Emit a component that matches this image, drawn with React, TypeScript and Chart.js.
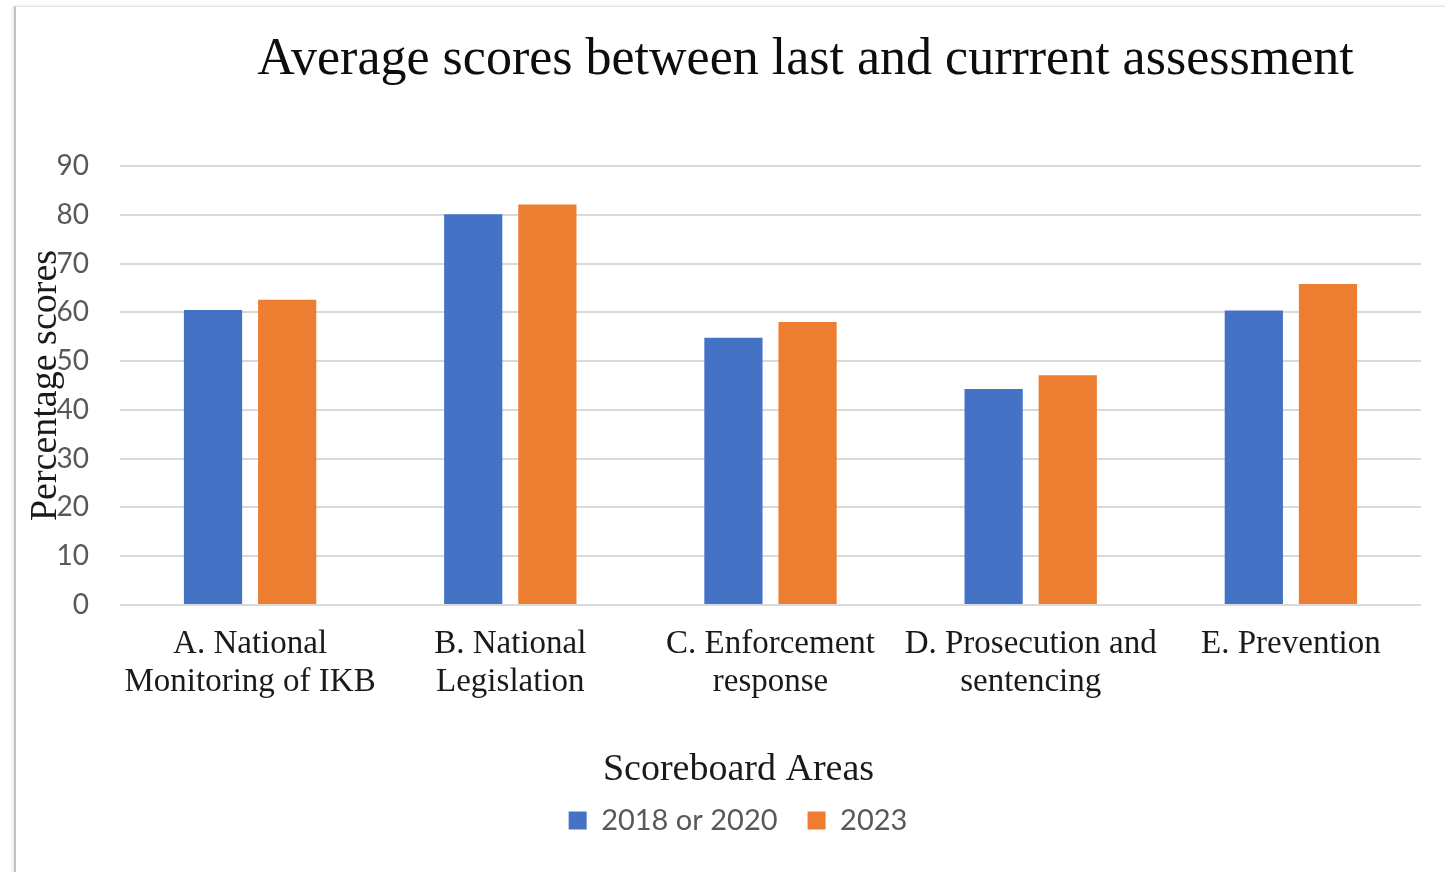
import React, { useEffect, useRef } from "react";
import { Chart, registerables } from "chart.js";

Chart.register(...registerables);

const chartTitle = "Average scores between last and currrent assessment";
const xAxisTitle = "Scoreboard Areas";
const yAxisTitle = "Percentage scores";

const categories: string[][] = [
  ["A. National", "Monitoring of IKB"],
  ["B. National", "Legislation"],
  ["C. Enforcement", "response"],
  ["D. Prosecution and", "sentencing"],
  ["E. Prevention"],
];

const seriesNames = ["2018 or 2020", "2023"];
const valuesEarlier = [60.5, 80.1, 54.8, 44.3, 60.4];
const values2023 = [62.6, 82.1, 58.0, 47.1, 65.8];

const yMin = 0;
const yMax = 90;
const yStep = 10;

const textPlugin = {
  id: "customTexts",
  afterDraw(chart: any) {
    const { ctx, chartArea } = chart;
    const cx = (chartArea.left + chartArea.right) / 2;
    const cy = (chartArea.top + chartArea.bottom) / 2;
    ctx.save();
    ctx.textAlign = "center";
    ctx.textBaseline = "alphabetic";
    ctx.fillStyle = "#0d0d0d";
    ctx.font = '52px "Liberation Serif", "Times New Roman", serif';
    ctx.fillText(chartTitle, cx + 35, chartArea.top - 92);

    ctx.fillStyle = "#1a1a1a";
    ctx.font = '38px "Liberation Serif", "Times New Roman", serif';
    ctx.fillText(xAxisTitle, cx - 32, chartArea.bottom + 175);

    ctx.translate(chartArea.left - 64, cy);
    ctx.rotate(-Math.PI / 2);
    ctx.fillText(yAxisTitle, 0, 0);
    ctx.restore();
  },
};

export default function App() {
  const ref = useRef<HTMLCanvasElement | null>(null);

  useEffect(() => {
    if (!ref.current) return;
    const chart = new Chart(ref.current, {
      type: "bar",
      data: {
        labels: categories,
        datasets: [
          {
            label: seriesNames[0],
            data: valuesEarlier,
            backgroundColor: "#4472C4",
            borderWidth: 0,
            categoryPercentage: 0.57,
            barPercentage: 0.785,
          },
          {
            label: seriesNames[1],
            data: values2023,
            backgroundColor: "#ED7D31",
            borderWidth: 0,
            categoryPercentage: 0.57,
            barPercentage: 0.785,
          },
        ],
      },
      options: {
        responsive: false,
        animation: false,
        layout: { padding: { left: 55, right: 24, top: 166, bottom: 27 } },
        plugins: {
          title: { display: false },
          tooltip: { enabled: false },
          legend: {
            display: true,
            position: "bottom",
            labels: {
              boxWidth: 18,
              boxHeight: 18,
              padding: 30,
              color: "#595959",
              font: { family: "Lato, 'Open Sans', sans-serif", size: 29 },
            },
          },
        },
        scales: {
          x: {
            grid: { display: false, drawTicks: false },
            border: { display: false },
            ticks: {
              color: "#1a1a1a",
              padding: 20,
              maxRotation: 0,
              autoSkip: false,
              font: { family: "'Liberation Serif', 'Times New Roman', serif", size: 33, lineHeight: 1.15 },
            },
            afterFit: (scale: any) => {
              scale.height = 171;
            },
          },
          y: {
            min: yMin,
            max: yMax,
            grid: { color: "#d9d9d9", lineWidth: 2, drawTicks: false },
            border: { display: false },
            ticks: {
              stepSize: yStep,
              color: "#595959",
              padding: 31,
              font: { family: "Lato, 'Open Sans', sans-serif", size: 28 },
            },
            afterFit: (scale: any) => {
              scale.width = 65;
            },
          },
        },
      },
      plugins: [textPlugin],
    });
    return () => chart.destroy();
  }, []);

  return (
    <div style={{ position: "fixed", left: 0, top: 0, width: 1445, height: 872, overflow: "hidden", background: "#fff" }}>
      <div
        style={{
          position: "absolute",
          left: 14,
          top: 6,
          width: 1500,
          height: 900,
          borderLeft: "2px solid #c4c4c4",
          borderTop: "1.5px solid #e2e2e2",
          boxShadow: "-1px 0 3px rgba(0,0,0,0.12)",
          background: "#fff",
        }}
      />
      <canvas
        ref={ref}
        width={1445}
        height={872}
        style={{ position: "absolute", left: 0, top: 0, width: 1445, height: 872 }}
      />
    </div>
  );
}
